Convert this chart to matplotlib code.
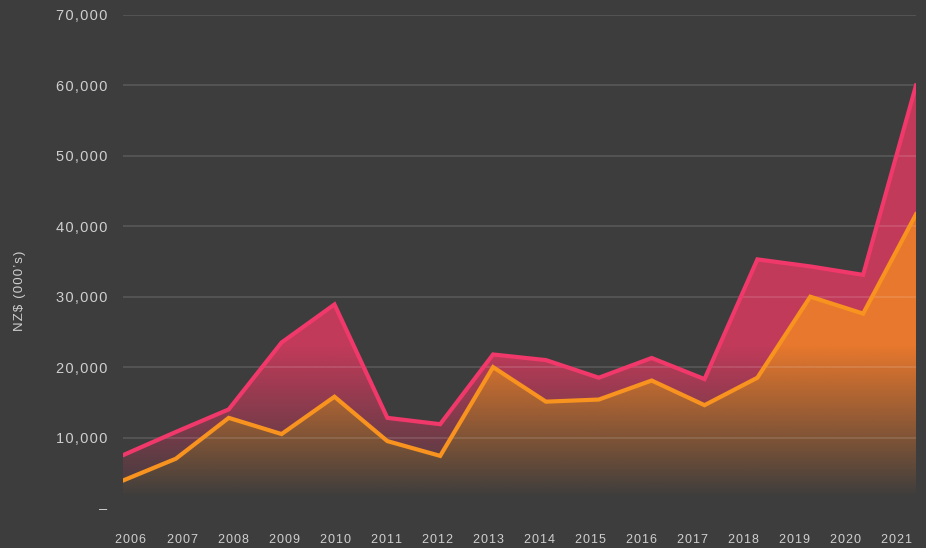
import numpy as np
import matplotlib
matplotlib.use("Agg")
import matplotlib.pyplot as plt
from matplotlib.colors import to_rgb
from matplotlib.patches import PathPatch

# ---------------------------------------------------------------------------
# DATA (NZ$ 000's)
# ---------------------------------------------------------------------------
YEARS = list(range(2006, 2022))
TOTAL = [7500, 10800, 14000, 23500, 28900, 12800, 11900, 21800,
         21000, 18500, 21300, 18300, 35300, 34300, 33100, 60000]
LOWER = [3900, 7000, 12800, 10500, 15800, 9500, 7400, 20000,
         15100, 15400, 18100, 14600, 18500, 30000, 27600, 41700]
Y_TICKS = [0, 10000, 20000, 30000, 40000, 50000, 60000, 70000]

# ---------------------------------------------------------------------------
# STYLE
# ---------------------------------------------------------------------------
BG = "#3d3d3d"
RED_LINE, RED_FILL = "#f0386a", "#c23a5a"
ORG_LINE, ORG_FILL = "#f7931e", "#e8782d"
TXT = "#cfcfcf"
FONT = ["Liberation Sans", "DejaVu Sans"]
HS = "\u200a"  # hair space, mimics letter spacing


def spaced(s):
    return HS.join(s)


def gradient_fill(ax, x, lo, hi, color, z):
    poly = ax.fill_between(x, lo, hi, facecolor="none", edgecolor="none")
    path = poly.get_paths()[0]
    patch = PathPatch(path, transform=ax.transData, facecolor="none", edgecolor="none")
    ax.add_patch(patch)
    yy = np.linspace(0, 70000, 500)
    alpha = np.clip((yy - 1500) / (23000 - 1500), 0, 1)
    img = np.zeros((len(yy), 1, 4))
    img[..., :3] = to_rgb(color)
    img[..., 3] = alpha[:, None]
    im = ax.imshow(img, aspect="auto", origin="lower", interpolation="bilinear",
                   extent=[x[0], x[-1], 0, 70000], zorder=z)
    im.set_clip_path(patch)


fig = plt.figure(figsize=(9.26, 5.48), dpi=100, facecolor=BG)
W, H = 926, 548
ax = fig.add_axes([123 / W, (H - 508) / H, (916 - 123) / W, (508 - 15) / H])
ax.set_facecolor(BG)

gradient_fill(ax, YEARS, LOWER, TOTAL, RED_FILL, 1)
gradient_fill(ax, YEARS, 0, LOWER, ORG_FILL, 1.1)

for v in Y_TICKS[1:]:
    ax.axhline(v, color="white", alpha=0.15, lw=1.1, zorder=2)

ax.plot(YEARS, TOTAL, color=RED_LINE, lw=3, solid_joinstyle="miter", zorder=4)
ax.plot(YEARS, LOWER, color=ORG_LINE, lw=3, solid_joinstyle="miter", zorder=3)

ax.set_xlim(2006, 2021)
ax.set_ylim(0, 70000)

# year labels sit on a slightly narrower band than the data points
lab_x = np.linspace(2006 + 8 / 52.867, 2006 + 774 / 52.867, len(YEARS))
ax.set_xticks(lab_x)
ax.set_xticklabels([spaced(str(y)) for y in YEARS], fontsize=9, color=TXT,
                   family=FONT)
ax.set_yticks(Y_TICKS)
ax.set_yticklabels(["\u2013"] + [spaced(f"{v:,}") for v in Y_TICKS[1:]],
                   fontsize=10.5, color=TXT, family=FONT)
ax.tick_params(axis="x", length=0, pad=19)
ax.tick_params(axis="y", length=0, pad=11.5)
for s in ax.spines.values():
    s.set_visible(False)

fig.text(20 / W, 1 - 291 / H, spaced("NZ$ (000\u2019s)"), rotation=90,
         ha="center", va="center", fontsize=9.5, color=TXT, family=FONT)

fig.savefig("out.png", dpi=100, facecolor=BG)
